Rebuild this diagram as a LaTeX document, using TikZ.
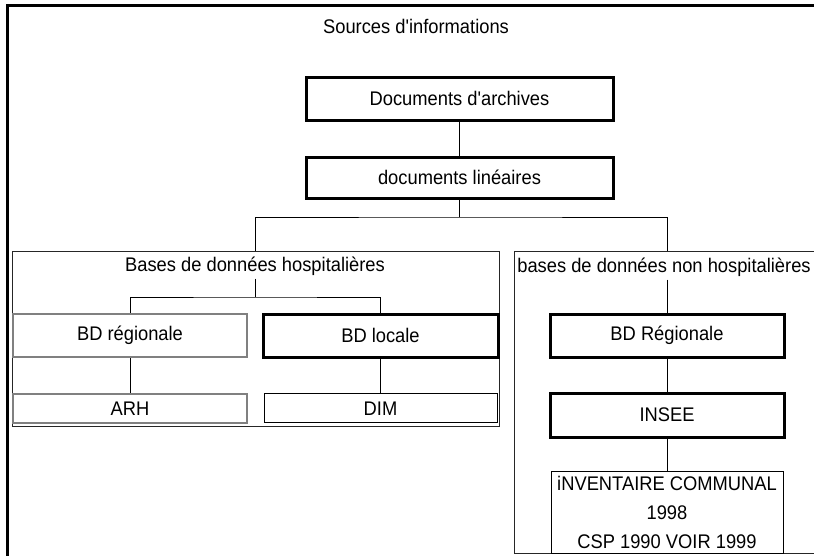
\documentclass[tikz,border=0pt]{standalone}
\usepackage{fontspec}
\newfontfamily\af[FakeStretch=0.93]{Liberation Sans}
\begin{document}
\begin{tikzpicture}[x=1pt,y=-1pt,
  every node/.style={font={\af\fontsize{19.7}{29}\selectfont}, inner sep=0pt, align=center},
  thickbox/.style={draw=black, line width=3pt, fill=white},
  graybox/.style={draw=black!50, line width=2.2pt, fill=white},
  thinbox/.style={draw=black, line width=1pt, fill=white},
  groupbox/.style={draw=black!85, line width=1pt},
  conn/.style={draw=black, line width=1pt}]
\useasboundingbox (0,0) rectangle (814,555);
% outer frame (left and top only)
\draw[line width=3pt] (7.5,560) -- (7.5,5.5) -- (820,5.5);
\node (title) at (416,26) {Sources d'informations};
\node[thickbox, minimum width=307, minimum height=43] (arch) at (459.5,98.5) {Documents d'archives};
\node[thickbox, minimum width=307, minimum height=41] (lin) at (459.5,177.5) {documents lin\'eaires};
% groups
\node[groupbox, minimum width=487, minimum height=175] (hosp) at (255.5,338.5) {};
\node[groupbox, minimum width=306, minimum height=302] (nonhosp) at (667,402) {};
\node[inner sep=3pt] (hosphead) at (255,266) {Bases de donn\'ees hospitali\`eres};
\node[inner sep=3pt] (nhhead) at (664,267) {bases de donn\'ees non hospitali\`eres};
% hospital boxes
\node[graybox, minimum width=234, minimum height=43] (breg) at (130,335.5) {BD r\'egionale};
\node[thickbox, minimum width=235, minimum height=43] (bloc) at (380.5,335.5) {BD locale};
\node[graybox, minimum width=234, minimum height=29, text depth=-2pt] (arh) at (130,408.5) {ARH};
\node[thinbox, minimum width=233, minimum height=29, text height=16pt] (dim) at (380.5,407.5) {DIM};
% non hospital boxes
\node[thickbox, minimum width=234, minimum height=43] (breg2) at (667,335.5) {BD R\'egionale};
\node[thickbox, minimum width=234, minimum height=44] (insee) at (667,415) {INSEE};
\node[thinbox, minimum width=232, minimum height=82] (inv) at (667,512) {iNVENTAIRE COMMUNAL\\1998\\CSP 1990 VOIR 1999};
% connectors
\coordinate (bus) at (459.5,217);
\coordinate (hb) at (255,297);
\draw[conn] (arch) -- (lin);
\draw[conn] (lin.south) -- (bus);
\draw[conn] (hosp.north) |- (bus) -| (nonhosp.north);
\draw[conn] (hosphead.south -| hb) -- (hb);
\draw[conn] (breg.north) |- (hb) -| (bloc.north);
\draw[conn] (breg) -- (arh);
\draw[conn] (bloc) -- (dim);
\draw[conn] (nhhead.south -| breg2.north) -- (breg2.north);
\draw[conn] (breg2) -- (insee);
\draw[conn] (insee) -- (inv);
\end{tikzpicture}
\end{document}
